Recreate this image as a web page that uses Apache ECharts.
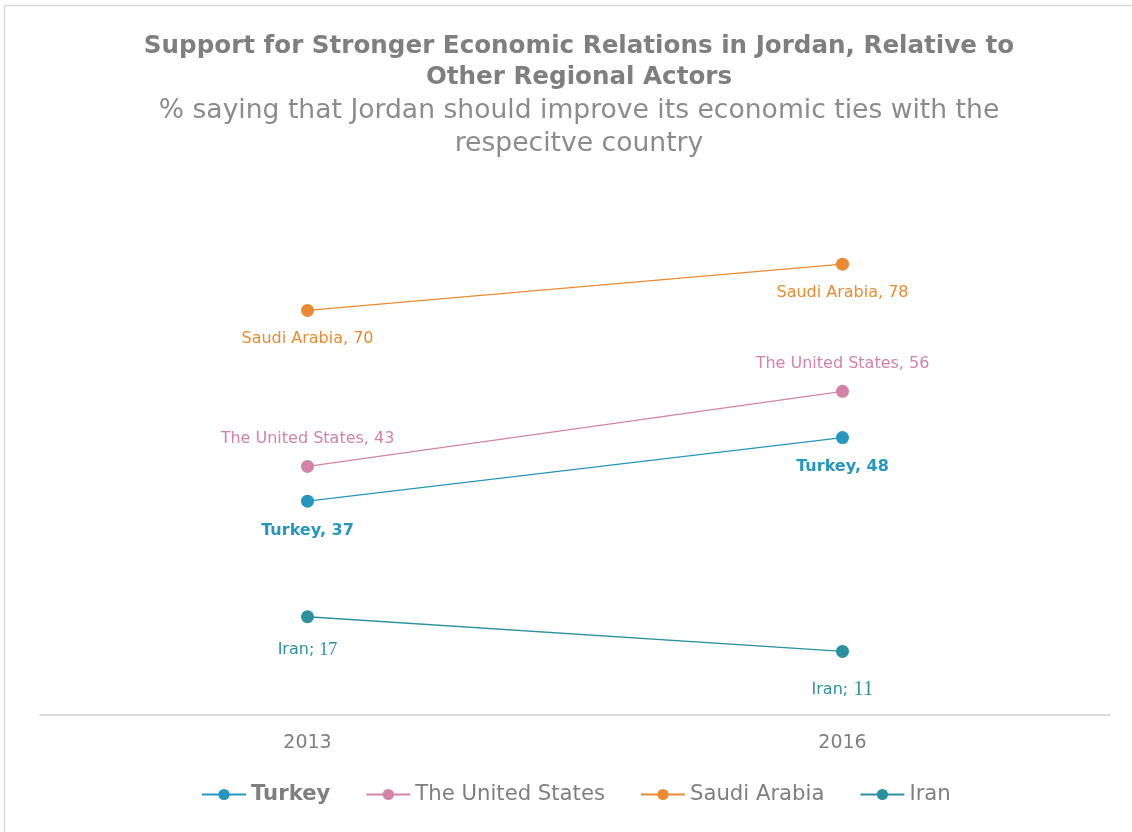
<!DOCTYPE html>
<html>
<head>
<meta charset="utf-8">
<script src="https://cdn.jsdelivr.net/npm/echarts@6/dist/echarts.min.js"></script>
<style>
html,body{margin:0;padding:0;background:#fff;}
#c{width:1132px;height:832px;}
</style>
</head>
<body>
<div id="c"></div>
<script>
const categories = ['2013', '2016'];
const seriesNames = ['Turkey', 'The United States', 'Saudi Arabia', 'Iran'];
const turkey = [37, 48];
const unitedStates = [43, 56];
const saudiArabia = [70, 78];
const iran = [17, 11];

const FONT = '"DejaVu Sans", "Open Sans", sans-serif';
const colors = {
  'Turkey': '#2596be',
  'The United States': '#d283a6',
  'Saudi Arabia': '#ea8a33',
  'Iran': '#2b919f'
};

function pointLabel(pos, dist, extra) {
  return Object.assign({ show: true, position: pos, distance: dist }, extra || {});
}

function makeData(values, labels) {
  return values.map((v, i) => ({ value: v, label: labels[i] }));
}

const chart = echarts.init(document.getElementById('c'));

function lineSeries(name, values, labels) {
  return {
    name: name,
    type: 'line',
    data: makeData(values, labels),
    symbol: 'circle',
    symbolSize: 13,
    lineStyle: { width: 1.3, color: colors[name] },
    itemStyle: { color: colors[name] },
    label: {
      fontFamily: FONT,
      fontSize: 16,
      color: colors[name],
      formatter: p => p.seriesName + ', ' + p.value
    },
    emphasis: { disabled: true },
    animation: false
  };
}

const option = {
  backgroundColor: '#fff',
  graphic: [{
    type: 'rect',
    shape: { x: 4.5, y: 5.5, width: 1200, height: 900 },
    style: { fill: 'none', stroke: '#d9d9d9', lineWidth: 1.5 },
    silent: true
  }],
  title: {
    left: 574,
    top: 26,
    text: 'Support for Stronger Economic Relations in Jordan, Relative to\nOther Regional Actors',
    subtext: '% saying that Jordan should improve its economic ties with the\nrespecitve country',
    itemGap: 2,
    textAlign: 'center',
    textStyle: {
      fontFamily: FONT, fontWeight: 'bold', fontSize: 24.6, lineHeight: 31, color: '#7f7f7f'
    },
    subtextStyle: {
      fontFamily: FONT, fontWeight: 'normal', fontSize: 26.6, lineHeight: 33, color: '#8c8c8c'
    }
  },
  legend: {
    bottom: 22,
    left: 196,
    itemWidth: 44,
    itemHeight: 14,
    itemGap: 35,
    data: seriesNames.map(n => ({
      name: n,
      textStyle: n === 'Turkey' ? { fontWeight: 'bold' } : {}
    })),
    textStyle: { fontFamily: FONT, fontSize: 21.2, color: '#7f7f7f' }
  },
  grid: { left: 40, right: 22, top: 137, height: 578, containLabel: false },
  xAxis: {
    type: 'category',
    data: categories,
    boundaryGap: true,
    axisLine: { lineStyle: { color: '#d0d0d0', width: 1.5 } },
    axisTick: { show: false },
    axisLabel: { fontFamily: FONT, fontSize: 19, color: '#7f7f7f', margin: 19 }
  },
  yAxis: {
    type: 'value', min: 0, max: 100,
    show: false,
    splitLine: { show: false }
  },
  series: [
    lineSeries('Turkey', turkey, [
      pointLabel('bottom', 15, { fontWeight: 'bold' }),
      pointLabel('bottom', 15, { fontWeight: 'bold' })
    ]),
    lineSeries('The United States', unitedStates, [
      pointLabel('top', 13),
      pointLabel('top', 13)
    ]),
    lineSeries('Saudi Arabia', saudiArabia, [
      pointLabel('bottom', 14),
      pointLabel('bottom', 14)
    ]),
    (function () {
      const s = lineSeries('Iran', iran, [
        pointLabel('bottom', 18),
        pointLabel('bottom', 21)
      ]);
      s.label.formatter = p => '{a|' + p.seriesName + '; }{' + (p.dataIndex === 0 ? 'b' : 'c') + '|' + p.value + '}';
      s.label.rich = {
        a: { fontFamily: FONT, fontSize: 16, color: colors['Iran'] },
        b: { fontFamily: '"Liberation Serif", serif', fontSize: 18, color: colors['Iran'] },
        c: { fontFamily: '"Liberation Serif", serif', fontSize: 21, color: colors['Iran'] }
      };
      return s;
    })()
  ]
};
chart.setOption(option);
</script>
</body>
</html>
